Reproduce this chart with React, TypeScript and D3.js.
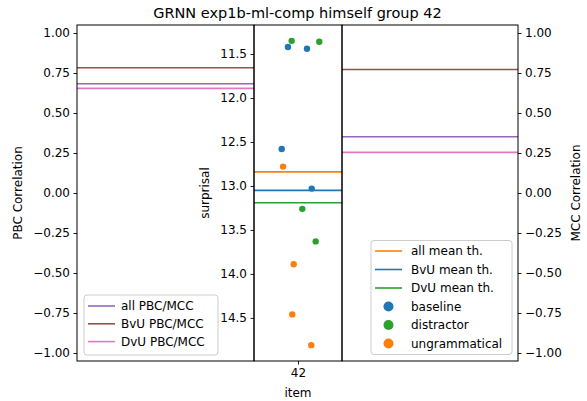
import React, { useEffect, useRef } from 'react';
import * as d3 from 'd3';

// values
const title = 'GRNN exp1b-ml-comp himself group 42';
const items = [42];
const corrTicks = [1, 0.75, 0.5, 0.25, 0, -0.25, -0.5, -0.75, -1];
const surprisalTicks = [11.5, 12, 12.5, 13, 13.5, 14, 14.5];

const thLabels = ['all', 'BvU', 'DvU'];
const thColors = ['#ff7f0e', '#1f77b4', '#2ca02c'];
const meanThresholds = [12.84, 13.05, 13.19];

const corrColors = ['#9467bd', '#8c564b', '#e377c2'];
const pbcValues = [0.683, 0.783, 0.654];
const mccValues = [0.352, 0.772, 0.254];

const condLabels = ['baseline', 'distractor', 'ungrammatical'];
const condColors = ['#1f77b4', '#2ca02c', '#ff7f0e'];
const baseline = [11.42, 11.44, 12.58, 13.03];
const baselineJitter = [-0.114, 0.102, -0.185, 0.156];
const distractor = [11.35, 11.36, 13.26, 13.63];
const distractorJitter = [-0.072, 0.242, 0.049, 0.201];
const ungrammatical = [12.78, 13.89, 14.46, 14.81];
const ungrammaticalJitter = [-0.17, -0.049, -0.065, 0.151];

const FONT = 'DejaVu Sans, sans-serif';

export default function App() {
  const ref = useRef<SVGSVGElement>(null);

  useEffect(() => {
    const svg = d3.select(ref.current);
    svg.selectAll('*').remove();

    const top = 25, bottom = 361;
    const leftX = [77, 254], midX = [254, 342], rightX = [342, 518];

    const yCorr = d3.scaleLinear().domain([-1.05, 1.05]).range([bottom, top]);
    const ySur = d3.scaleLinear().domain([14.99, 11.17]).range([bottom, top]);
    const xItem = d3.scaleLinear().domain([41.5, 42.5]).range(midX);

    const styleAxis = (g: any) => {
      g.attr('font-family', FONT).attr('font-size', 12);
      g.select('.domain').remove();
      g.selectAll('.tick line').attr('stroke', '#000').attr('stroke-width', 0.9);
      g.selectAll('.tick text').attr('fill', '#000');
    };

    // left panel: PBC lines
    pbcValues.forEach((v, i) => {
      svg.append('line')
        .attr('x1', leftX[0]).attr('x2', leftX[1])
        .attr('y1', yCorr(v)).attr('y2', yCorr(v))
        .attr('stroke', corrColors[i]).attr('stroke-width', 1.6);
    });
    // right panel: MCC lines
    mccValues.forEach((v, i) => {
      svg.append('line')
        .attr('x1', rightX[0]).attr('x2', rightX[1])
        .attr('y1', yCorr(v)).attr('y2', yCorr(v))
        .attr('stroke', corrColors[i]).attr('stroke-width', 1.6);
    });
    // middle panel: mean thresholds
    meanThresholds.forEach((v, i) => {
      svg.append('line')
        .attr('x1', midX[0]).attr('x2', midX[1])
        .attr('y1', ySur(v)).attr('y2', ySur(v))
        .attr('stroke', thColors[i]).attr('stroke-width', 1.6);
    });

    // points
    const series = [
      [baseline, baselineJitter],
      [distractor, distractorJitter],
      [ungrammatical, ungrammaticalJitter],
    ];
    series.forEach(([vals, jit], ci) => {
      svg.append('g').selectAll('circle')
        .data(vals)
        .join('circle')
        .attr('cx', (d, i) => xItem(items[0] + jit[i]))
        .attr('cy', d => ySur(d))
        .attr('r', 3.2)
        .attr('fill', condColors[ci]);
    });

    // frames
    [leftX, midX, rightX].forEach(xs => {
      svg.append('rect')
        .attr('x', xs[0]).attr('y', top)
        .attr('width', xs[1] - xs[0]).attr('height', bottom - top)
        .attr('fill', 'none').attr('stroke', '#000').attr('stroke-width', 1);
    });

    // axes
    svg.append('g').attr('transform', `translate(${leftX[0]},0)`)
      .call(d3.axisLeft(yCorr).tickValues(corrTicks).tickFormat(d3.format('.2f')).tickSize(3.5).tickPadding(3.5))
      .call(styleAxis);
    svg.append('g').attr('transform', `translate(${rightX[1]},0)`)
      .call(d3.axisRight(yCorr).tickValues(corrTicks).tickFormat(d3.format('.2f')).tickSize(3.5).tickPadding(3.5))
      .call(styleAxis);
    svg.append('g').attr('transform', `translate(${midX[0]},0)`)
      .call(d3.axisLeft(ySur).tickValues(surprisalTicks).tickFormat(d3.format('.1f')).tickSize(3.5).tickPadding(3.5))
      .call(styleAxis);
    svg.append('g').attr('transform', `translate(0,${bottom})`)
      .call(d3.axisBottom(xItem).tickValues(items).tickFormat(d3.format('d')).tickSize(3.5).tickPadding(3.5))
      .call(styleAxis);

    // labels
    const txt = (x: number, y: number, s: string, size: number, rot = 0) =>
      svg.append('text')
        .attr('transform', `translate(${x},${y}) rotate(${rot})`)
        .attr('text-anchor', 'middle')
        .attr('font-family', FONT)
        .attr('font-size', size)
        .text(s);
    txt(297.5, 18, title, 14.5);
    txt(22, 193, 'PBC Correlation', 12, -90);
    txt(580, 193, 'MCC Correlation', 12, -90);
    txt(209, 193, 'surprisal', 12, -90);
    txt(298, 397, 'item', 12);

    // left legend
    const lg = svg.append('g');
    lg.append('rect')
      .attr('x', 84).attr('y', 295).attr('width', 134).attr('height', 60)
      .attr('rx', 3).attr('fill', 'rgba(255,255,255,0.8)')
      .attr('stroke', '#ccc').attr('stroke-width', 1);
    thLabels.forEach((lab, i) => {
      const y = 306 + i * 17.8;
      lg.append('line').attr('x1', 88).attr('x2', 115).attr('y1', y).attr('y2', y)
        .attr('stroke', corrColors[i]).attr('stroke-width', 1.6);
      lg.append('text').attr('x', 121).attr('y', y).attr('dy', '0.35em')
        .attr('font-family', FONT).attr('font-size', 12).text(`${lab} PBC/MCC`);
    });

    // right legend
    const rg = svg.append('g');
    rg.append('rect')
      .attr('x', 371).attr('y', 240.5).attr('width', 141).attr('height', 114)
      .attr('rx', 3).attr('fill', 'rgba(255,255,255,0.8)')
      .attr('stroke', '#ccc').attr('stroke-width', 1);
    thLabels.forEach((lab, i) => {
      const y = 251 + i * 18.5;
      rg.append('line').attr('x1', 375).attr('x2', 402).attr('y1', y).attr('y2', y)
        .attr('stroke', thColors[i]).attr('stroke-width', 1.6);
      rg.append('text').attr('x', 411).attr('y', y).attr('dy', '0.35em')
        .attr('font-family', FONT).attr('font-size', 12).text(`${lab} mean th.`);
    });
    condLabels.forEach((lab, i) => {
      const y = 251 + (i + 3) * 18.5;
      rg.append('circle').attr('cx', 388.5).attr('cy', y).attr('r', 5)
        .attr('fill', condColors[i]);
      rg.append('text').attr('x', 411).attr('y', y).attr('dy', '0.35em')
        .attr('font-family', FONT).attr('font-size', 12).text(lab);
    });
  }, []);

  return (
    <svg ref={ref} width={587} height={401}
      style={{ position: 'absolute', left: 0, top: 0, background: '#fff' }} />
  );
}
